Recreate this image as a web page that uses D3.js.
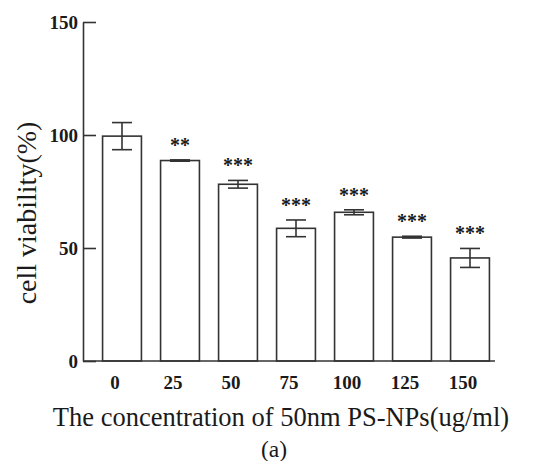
<!DOCTYPE html>
<html>
<head>
<meta charset="utf-8">
<script src="https://cdn.jsdelivr.net/npm/d3@7"></script>
<style>
  body { margin: 0; background: #fff; }
  text { font-family: "Liberation Serif", "Times New Roman", serif; fill: #1a1a1a; }
</style>
</head>
<body>
<div id="chart"></div>
<script>
// données
const concentrations = ["0", "25", "50", "75", "100", "125", "150"];
const viability = [99.5, 88.7, 78.2, 58.7, 65.8, 54.8, 45.6];
const errors = [6.0, 0.3, 1.7, 3.7, 1.1, 0.4, 4.2];
const stars = ["", "**", "***", "***", "***", "***", "***"];
const yTicks = [0, 50, 100, 150];

const W = 534, H = 461;
const margin = { top: 22, right: 39, bottom: 100, left: 83 };
const width = W - margin.left - margin.right;
const height = H - margin.top - margin.bottom;
const ink = "#333";

const svg = d3.select("#chart").append("svg")
    .attr("width", W)
    .attr("height", H);

const g = svg.append("g")
    .attr("transform", `translate(${margin.left},${margin.top})`);

const x = d3.scaleBand()
    .domain(concentrations)
    .range([10, 416])
    .paddingInner(0.33)
    .paddingOuter(0.165);

const y = d3.scaleLinear()
    .domain([0, 150])
    .range([height, 0]);

// barres
g.selectAll(".bar")
    .data(concentrations)
    .enter()
    .append("rect")
    .attr("class", "bar")
    .attr("x", d => x(d))
    .attr("y", (d, i) => y(viability[i]))
    .attr("width", x.bandwidth())
    .attr("height", (d, i) => height - y(viability[i]))
    .attr("fill", "#fff")
    .attr("stroke", ink)
    .attr("stroke-width", 1.6);

// barres d'erreur
const capW = 20;
const err = g.selectAll(".err")
    .data(concentrations)
    .enter()
    .append("g")
    .attr("class", "err")
    .attr("stroke", ink)
    .attr("stroke-width", 1.6);

err.append("line")
    .attr("x1", d => x(d) + x.bandwidth() / 2)
    .attr("x2", d => x(d) + x.bandwidth() / 2)
    .attr("y1", (d, i) => y(viability[i] + errors[i]))
    .attr("y2", (d, i) => y(viability[i] - errors[i]));

[1, -1].forEach(s => {
    err.append("line")
        .attr("x1", d => x(d) + x.bandwidth() / 2 - capW / 2)
        .attr("x2", d => x(d) + x.bandwidth() / 2 + capW / 2)
        .attr("y1", (d, i) => y(viability[i] + s * errors[i]))
        .attr("y2", (d, i) => y(viability[i] + s * errors[i]));
});

// étoiles de significativité
g.selectAll(".star")
    .data(concentrations)
    .enter()
    .append("text")
    .attr("class", "star")
    .attr("x", d => x(d) + x.bandwidth() / 2)
    .attr("y", (d, i) => y(viability[i] + errors[i]) - 8)
    .attr("text-anchor", "middle")
    .style("font-size", "20px")
    .style("font-weight", "bold")
    .text((d, i) => stars[i]);

// axe Y
const yAxis = g.append("g")
    .attr("class", "y-axis")
    .call(d3.axisLeft(y).tickValues(yTicks).tickSizeInner(-13).tickSizeOuter(0).tickPadding(5));
yAxis.selectAll("path, line").attr("stroke", ink).attr("stroke-width", 1.6);
yAxis.selectAll("text")
    .style("font-size", "19px")
    .style("font-weight", "bold")
    .attr("font-family", null);

// axe X
g.append("line")
    .attr("x1", 0)
    .attr("x2", 412)
    .attr("y1", height)
    .attr("y2", height)
    .attr("stroke", ink)
    .attr("stroke-width", 1.6);

const xAxis = g.append("g")
    .attr("class", "x-axis")
    .attr("transform", `translate(-7,${height})`)
    .call(d3.axisBottom(x).tickSize(0).tickPadding(15));
xAxis.select(".domain").remove();
xAxis.selectAll("text")
    .style("font-size", "19px")
    .style("font-weight", "bold")
    .attr("font-family", null);

// titres
svg.append("text")
    .attr("x", 281)
    .attr("y", 426)
    .attr("text-anchor", "middle")
    .style("font-size", "26.5px")
    .text("The concentration of 50nm PS-NPs(ug/ml)");

svg.append("text")
    .attr("x", 274)
    .attr("y", 457)
    .attr("text-anchor", "middle")
    .style("font-size", "23.5px")
    .text("(a)");

svg.append("text")
    .attr("transform", "translate(36,213) rotate(-90)")
    .attr("text-anchor", "middle")
    .style("font-size", "28px")
    .text("cell viability(%)");
</script>
</body>
</html>
